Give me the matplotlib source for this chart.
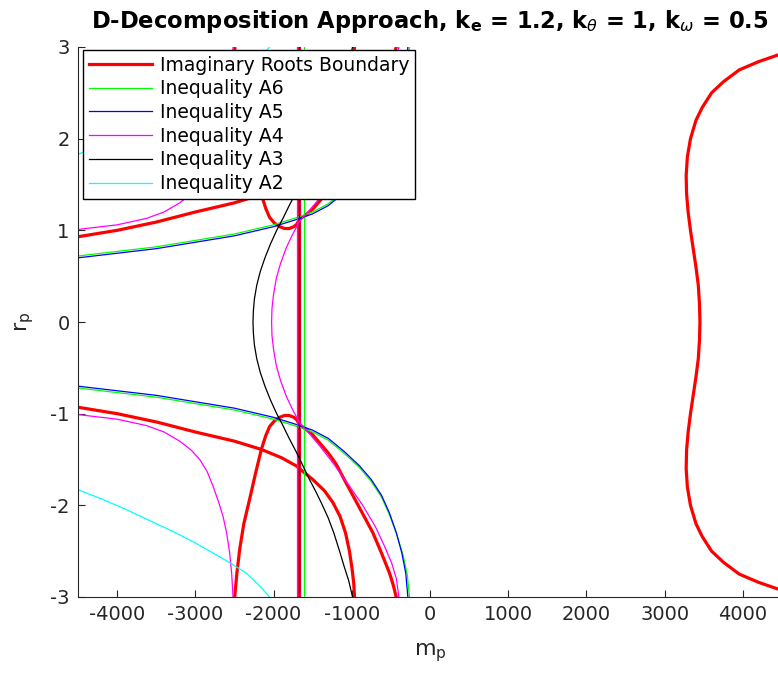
import numpy as np
import matplotlib
matplotlib.use("Agg")
from matplotlib import pyplot as plt

plt.rcParams['font.family'] = ['DejaVu Sans']
plt.rcParams['mathtext.fontset'] = 'dejavusans'
plt.rcParams['axes.unicode_minus'] = False

# 曲線データ (r_p <= 0 側のみ、r_p > 0 側は対称)
# 右側の虚根境界ループ (r_p >= 0 側)
rb_loop_m = np.array([4700, 4438, 4200, 3953, 3750, 3600, 3480, 3400, 3330, 3290, 3275,
                      3280, 3300, 3330, 3365, 3400, 3430, 3445, 3451])
rb_loop_r = np.array([2.97, 2.91, 2.84, 2.75, 2.62, 2.50, 2.34, 2.20, 2.00, 1.80, 1.60,
                      1.40, 1.20, 1.00, 0.80, 0.60, 0.40, 0.20, 0.0])

# 左端から下へ抜ける虚根境界
rb_a_m = np.array([-4500, -4000, -3500, -3000, -2500, -2156, -1900, -1709, -1497, -1350,
                   -1241, -1150, -1080, -1030, -995, -975, -965])
rb_a_r = np.array([-0.93, -1.00, -1.09, -1.20, -1.30, -1.39, -1.48, -1.57, -1.72, -1.84,
                   -1.97, -2.12, -2.30, -2.50, -2.70, -2.85, -3.00])

# アーチ状の虚根境界
rb_b_m = np.array([-2497, -2470, -2433, -2380, -2305, -2230, -2156, -2100, -2050, -1990,
                   -1922, -1860, -1800, -1740, -1700, -1670, -1600, -1500, -1400, -1300,
                   -1200, -1070, -950, -830, -730, -630, -517, -470, -432])
rb_b_r = np.array([-3.00, -2.75, -2.48, -2.20, -1.93, -1.65, -1.39, -1.24, -1.14, -1.08,
                   -1.04, -1.02, -1.02, -1.04, -1.07, -1.12, -1.16, -1.23, -1.33, -1.43,
                   -1.55, -1.76, -1.95, -2.14, -2.30, -2.50, -2.74, -2.87, -3.00])

# 垂直線の位置
rb_vert_m = -1670
a6_vert_m = -1610
a5_vert_m = -1670
a4_vert_m = -1695

# A6, A5
a6_m = np.array([-4500, -4000, -3500, -3000, -2500, -2000, -1700, -1500, -1300, -1100,
                 -900, -750, -620, -520, -425, -345, -290, -262])
a6_r = np.array([-0.72, -0.77, -0.82, -0.89, -0.96, -1.06, -1.14, -1.20, -1.29, -1.43,
                 -1.59, -1.74, -1.91, -2.10, -2.32, -2.54, -2.76, -3.00])
a5_m = np.array([-4500, -4000, -3500, -3000, -2500, -2000, -1700, -1500, -1300, -1100,
                 -900, -750, -620, -520, -430, -360, -310, -283])
a5_r = np.array([-0.70, -0.75, -0.80, -0.87, -0.94, -1.04, -1.12, -1.18, -1.27, -1.41,
                 -1.57, -1.72, -1.89, -2.08, -2.30, -2.52, -2.74, -3.00])

# A4 (中央のふくらみ, r_p <= 0 側)
a4_mid_m = np.array([-2025, -2020, -2000, -1964, -1910, -1837, -1760, -1667, -1540, -1411,
                     -1230, -1030, -860, -700, -590, -490, -430, -398])
a4_mid_r = np.array([0.0, -0.15, -0.30, -0.48, -0.64, -0.81, -0.95, -1.10, -1.22, -1.35,
                     -1.55, -1.79, -2.00, -2.23, -2.43, -2.63, -2.80, -3.00])
# A4 (左下の枝)
a4_left_m = np.array([-4500, -4000, -3625, -3400, -3199, -3050, -2944, -2850, -2774, -2700,
                      -2646, -2600, -2561, -2535, -2518])
a4_left_r = np.array([-1.01, -1.06, -1.13, -1.20, -1.30, -1.40, -1.50, -1.63, -1.79, -1.97,
                      -2.12, -2.30, -2.52, -2.75, -3.00])

# A3 (S字, r_p <= 0 側)
a3_m = np.array([-2263, -2258, -2245, -2215, -2170, -2110, -2040, -1960, -1880, -1800,
                 -1720, -1640, -1540, -1460, -1380, -1300, -1230, -1156, -1100, -1040, -990])
a3_r = np.array([0.0, -0.12, -0.25, -0.40, -0.55, -0.70, -0.85, -1.00, -1.13, -1.27,
                 -1.40, -1.54, -1.72, -1.85, -1.99, -2.14, -2.30, -2.50, -2.66, -2.82, -3.00])

# A2
a2_m = np.array([-4500, -4200, -3900, -3625, -3300, -3000, -2774, -2550, -2348, -2200, -2050])
a2_r = np.array([-1.83, -1.93, -2.04, -2.15, -2.28, -2.41, -2.52, -2.63, -2.74, -2.86, -3.00])


def closed(m, r):
    # r_p = 0 を通る曲線を上下つなげる
    return np.concatenate([m[::-1], m[1:]]), np.concatenate([-r[::-1], r[1:]])


fig = plt.figure(figsize=(7.78, 6.73), dpi=100)
ax = fig.add_axes([78 / 778, 1 - 597 / 673, 704 / 778, 550 / 673])

red = '#ff0000'
lw_red = 2.3
lw = 0.9

# 虚根境界
m, r = closed(rb_loop_m[::-1], -rb_loop_r[::-1])
ax.plot(m, r, color=red, lw=lw_red, label='Imaginary Roots Boundary')
ax.plot(rb_a_m, rb_a_r, color=red, lw=lw_red)
ax.plot(rb_a_m, -rb_a_r, color=red, lw=lw_red)
ax.plot(rb_b_m, rb_b_r, color=red, lw=lw_red)
ax.plot(rb_b_m, -rb_b_r, color=red, lw=lw_red)
ax.plot([rb_vert_m, rb_vert_m], [-3, 3], color=red, lw=lw_red)

# A6
ax.plot(a6_m, a6_r, color='#00ff00', lw=lw, label='Inequality A6')
ax.plot(a6_m, -a6_r, color='#00ff00', lw=lw)
ax.plot([a6_vert_m, a6_vert_m], [-3, 3], color='#00ff00', lw=lw)

# A5
ax.plot(a5_m, a5_r, color='#0000ff', lw=lw, label='Inequality A5')
ax.plot(a5_m, -a5_r, color='#0000ff', lw=lw)
ax.plot([a5_vert_m, a5_vert_m], [-3, 3], color='#0000ff', lw=lw)

# A4
m, r = closed(a4_mid_m, a4_mid_r)
ax.plot(m, r, color='#ff00ff', lw=lw, label='Inequality A4')
ax.plot(a4_left_m, a4_left_r, color='#ff00ff', lw=lw)
ax.plot(a4_left_m, -a4_left_r, color='#ff00ff', lw=lw)
ax.plot([a4_vert_m, a4_vert_m], [-3, 3], color='#ff00ff', lw=lw)

# A3
m, r = closed(a3_m, a3_r)
ax.plot(m, r, color='k', lw=lw, label='Inequality A3')

# A2
ax.plot(a2_m, a2_r, color='#00ffff', lw=lw, label='Inequality A2')
ax.plot(a2_m, -a2_r, color='#00ffff', lw=lw)

ax.set_xlim(-4500, 4500)
ax.set_ylim(-3, 3)
ax.set_xticks(np.arange(-4000, 4001, 1000))
ax.set_yticks(np.arange(-3, 4, 1))

axc = '#262626'
for s in ['top', 'right']:
    ax.spines[s].set_visible(False)
for s in ['left', 'bottom']:
    ax.spines[s].set_color(axc)
    ax.spines[s].set_linewidth(0.8)
ax.tick_params(direction='in', length=5, width=0.8, colors=axc, labelsize=14, pad=6)

ax.set_xlabel('m$_\\mathregular{p}$', fontsize=16, color=axc, labelpad=12)
ax.set_ylabel('r$_\\mathregular{p}$', fontsize=16, color=axc, labelpad=10)
ax.set_title('D-Decomposition Approach, k$_\\mathbf{e}$ = 1.2, k$_\\theta$ = 1, k$_\\omega$ = 0.5',
             fontsize=16.3, fontweight='bold', pad=14)

ax.legend(loc='upper left', bbox_to_anchor=(5 / 704, 547 / 550), fontsize=13.5,
          handlelength=3.4, handletextpad=0.4, borderpad=0.3, labelspacing=0.25,
          borderaxespad=0, fancybox=False, edgecolor='k', framealpha=1)

fig.savefig('out.png', dpi=100)
